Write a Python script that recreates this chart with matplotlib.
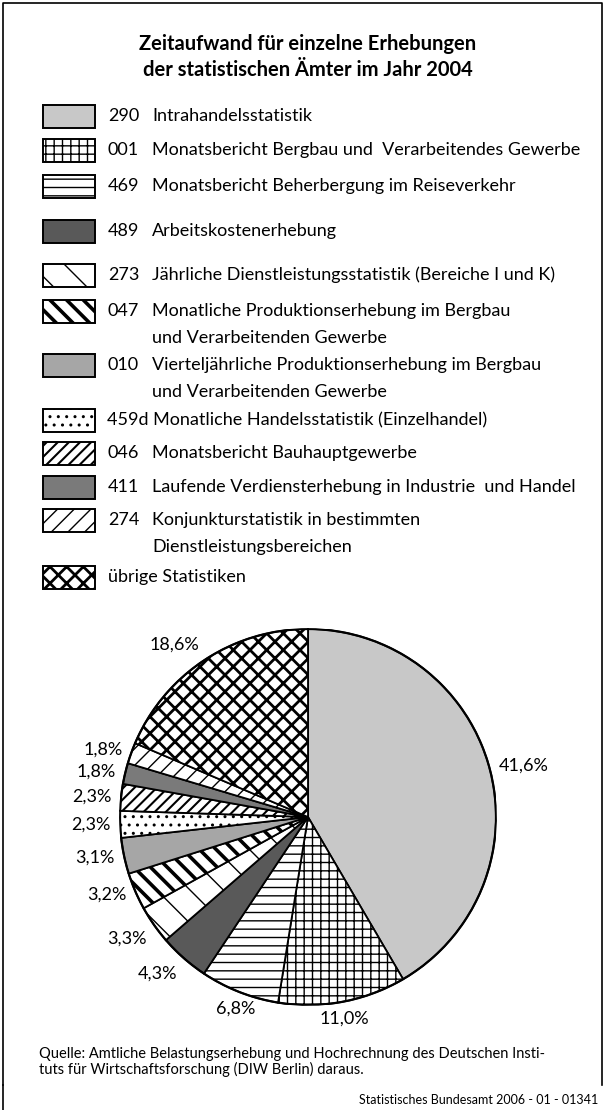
import matplotlib.pyplot as plt
from matplotlib.patches import Rectangle, Circle
import numpy as np

# data (percent of total time spent, 2004)
codes = ['290', '001', '469', '489', '273', '047', '010', '459d', '046', '411', '274', '']
descriptions = [
    'Intrahandelsstatistik',
    'Monatsbericht Bergbau und  Verarbeitendes Gewerbe',
    'Monatsbericht Beherbergung im Reiseverkehr',
    'Arbeitskostenerhebung',
    'Jährliche Dienstleistungsstatistik (Bereiche I und K)',
    'Monatliche Produktionserhebung im Bergbau\nund Verarbeitenden Gewerbe',
    'Vierteljährliche Produktionserhebung im Bergbau\nund Verarbeitenden Gewerbe',
    'Monatliche Handelsstatistik (Einzelhandel)',
    'Monatsbericht Bauhauptgewerbe',
    'Laufende Verdiensterhebung in Industrie  und Handel',
    'Konjunkturstatistik in bestimmten\nDienstleistungsbereichen',
    'übrige Statistiken',
]
shares = [41.6, 11.0, 6.8, 4.3, 3.3, 3.2, 3.1, 2.3, 2.3, 1.8, 1.8, 18.6]
share_labels = ['41,6%', '11,0%', '6,8%', '4,3%', '3,3%', '3,2%', '3,1%',
                '2,3%', '2,3%', '1,8%', '1,8%', '18,6%']

title = 'Zeitaufwand für einzelne Erhebungen\nder statistischen Ämter im Jahr 2004'
source = ['Quelle: Amtliche Belastungserhebung und Hochrechnung des Deutschen Insti-',
          'tuts für Wirtschaftsforschung (DIW Berlin) daraus.']
credit = 'Statistisches Bundesamt 2006 - 01 - 01341'

# styles: facecolor, hatch, hatch linewidth
styles = [
    ('#c8c8c8', None, 1.0),
    ('white', '++', 1.0),
    ('white', '--', 1.0),
    ('#595959', None, 1.0),
    ('white', '\\', 1.0),
    ('white', '\\\\', 2.6),
    ('#a6a6a6', None, 1.0),
    ('white', '..', 1.0),
    ('white', '///', 1.5),
    ('#7a7a7a', None, 1.0),
    ('white', '//', 1.0),
    ('white', 'xx', 2.0),
]

plt.rcParams['font.family'] = ['Lato', 'DejaVu Sans']
W, H = 605, 1110
fs = 13
fig = plt.figure(figsize=(W / 100, H / 100), dpi=100)

# page overlay in pixel coords
bg = fig.add_axes([0, 0, 1, 1])
bg.set_xlim(0, W)
bg.set_ylim(H, 0)
bg.axis('off')


def style_patch(p, st):
    fc, hatch, hlw = st
    p.set_facecolor(fc)
    p.set_edgecolor('black')
    if hatch:
        p.set_hatch(hatch)
        if hasattr(p, 'set_hatch_linewidth'):
            p.set_hatch_linewidth(hlw)


# frame
bg.plot([3, 3, 602, 602], [1085, 3, 3, 1085], color='black', lw=1.2)
bg.plot([3, 3], [1085, 1110], color='black', lw=1.2)

bg.text(308, 57, title, ha='center', va='center', fontsize=14.5,
        fontweight='bold', linespacing=1.4)

# legend
row_y = [116, 150, 186, 231, 275, 311, 365, 420, 453, 487, 520, 577]
for i, (c, d) in enumerate(zip(codes, descriptions)):
    y = row_y[i]
    r = Rectangle((43, y - 11.5), 52, 23, lw=1.4)
    style_patch(r, styles[i])
    bg.add_patch(r)
    lines = d.split('\n')
    if len(c) > 3:
        bg.text(107, y, c + ' ' + lines[0], va='center', fontsize=fs)
    else:
        if c:
            bg.text(108, y, c, va='center', fontsize=fs)
        bg.text(152 if c else 108, y, lines[0], va='center', fontsize=fs)
    for k, ln in enumerate(lines[1:]):
        bg.text(152, y + 27 * (k + 1), ln, va='center', fontsize=fs)

# pie
cx, cy, rad = 308, 817, 188
ax = fig.add_axes([(cx - rad) / W, 1 - (cy + rad) / H, 2 * rad / W, 2 * rad / H])
wedges, _ = ax.pie(shares, startangle=90, counterclock=False,
                   wedgeprops=dict(linewidth=1.3, edgecolor='black'))
for w, st in zip(wedges, styles):
    style_patch(w, st)
ax.add_patch(Circle((0, 0), 1, fill=False, ec='black', lw=1.6))
ax.set_xlim(-1, 1)
ax.set_ylim(-1, 1)
ax.set_aspect('auto')
ax.axis('off')
for w, lab in zip(wedges, share_labels):
    ang = np.deg2rad((w.theta1 + w.theta2) / 2)
    c, s = np.cos(ang), np.sin(ang)
    ha = 'right' if c < -0.5 else ('left' if c > 0.5 else 'center')
    va = 'top' if s < -0.5 else ('bottom' if s > 0.5 else 'center')
    ax.text(1.05 * c, 1.05 * s, lab, ha=ha, va=va, fontsize=fs, clip_on=False)

# footer
bg.text(39, 1054, source[0], va='center', fontsize=10.5)
bg.text(39, 1069, source[1], va='center', fontsize=10.5)
bg.text(598, 1100, credit, ha='right', va='center', fontsize=9)

fig.savefig('out.png', dpi=100)
